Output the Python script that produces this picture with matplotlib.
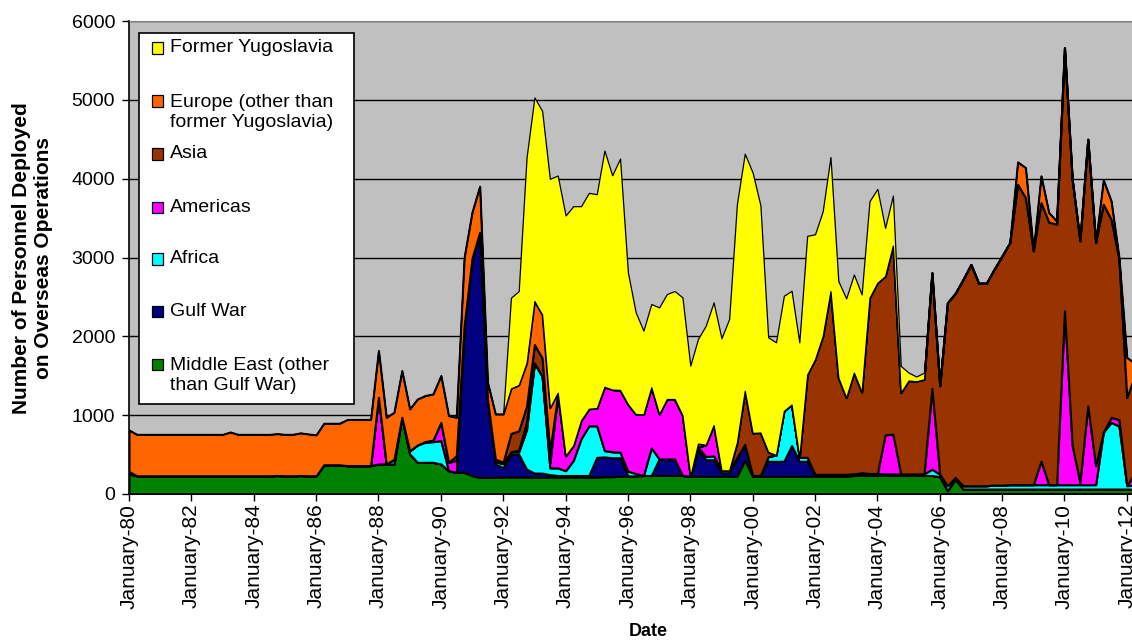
import matplotlib
matplotlib.use("Agg")
import matplotlib.pyplot as plt
import matplotlib.dates as mdates
import pandas as pd
from matplotlib.patches import Rectangle

plt.rcParams['font.family'] = ['Liberation Sans', 'DejaVu Sans']

# Quarterly observations, January 1980 onwards
start_date = "1980-01-01"
n_quarters = 130

series_names = ["Middle East (other\nthan Gulf War)", "Gulf War", "Africa", "Americas", "Asia",
                "Europe (other than\nformer Yugoslavia)", "Former Yugoslavia"]
series_colors = ["#008000", "#000080", "#00FFFF", "#FF00FF", "#993300", "#FF6600", "#FFFF00"]

middle_east = [
    256, 231, 231, 231, 231, 231, 231, 231, 231, 231,
    231, 231, 231, 231, 231, 231, 231, 231, 231, 235,
    231, 231, 235, 231, 231, 371, 371, 371, 360, 360,
    360, 360, 381, 381, 381, 973, 508, 402, 402, 402,
    381, 296, 275, 275, 233, 211, 211, 211, 215, 215,
    215, 215, 215, 215, 215, 215, 215, 215, 215, 215,
    215, 220, 220, 225, 230, 230, 235, 235, 235, 235,
    235, 235, 225, 225, 225, 225, 225, 225, 225, 430,
    225, 225, 225, 225, 225, 225, 225, 225, 230, 230,
    230, 230, 230, 235, 245, 240, 240, 235, 235, 235,
    235, 235, 235, 235, 220, 42, 190, 63, 63, 63,
    63, 63, 63, 63, 63, 63, 63, 63, 63, 63,
    63, 63, 63, 63, 63, 63, 63, 63, 63, 60,
]
gulf_war = [
    0, 0, 0, 0, 0, 0, 0, 0, 0, 0,
    0, 0, 0, 0, 0, 0, 0, 0, 0, 0,
    0, 0, 0, 0, 0, 0, 0, 0, 0, 0,
    0, 0, 0, 0, 0, 0, 0, 0, 0, 0,
    0, 0, 0, 1825, 2717, 3109, 989, 170, 120, 290,
    290, 100, 50, 50, 30, 20, 20, 20, 20, 20,
    250, 250, 240, 235, 0, 0, 0, 0, 210, 210,
    210, 0, 0, 330, 210, 210, 45, 45, 220, 200,
    10, 10, 190, 190, 190, 390, 190, 190, 0, 0,
    0, 0, 0, 0, 0, 0, 0, 0, 0, 0,
    0, 0, 0, 0, 0, 0, 0, 0, 0, 0,
    0, 0, 0, 0, 0, 0, 0, 0, 0, 0,
    0, 0, 0, 0, 0, 0, 0, 0, 0, 0,
]
africa = [
    30, 0, 0, 0, 0, 0, 0, 0, 0, 0,
    0, 0, 0, 0, 0, 0, 0, 0, 0, 0,
    0, 0, 0, 0, 0, 0, 0, 0, 0, 0,
    0, 0, 0, 0, 60, 0, 40, 220, 254, 262,
    296, 0, 0, 0, 0, 0, 0, 30, 50, 30,
    30, 500, 1398, 1228, 86, 96, 60, 190, 465, 630,
    400, 80, 75, 70, 60, 30, 0, 350, 0, 0,
    0, 0, 0, 40, 40, 50, 30, 30, 20, 0,
    0, 0, 60, 80, 640, 520, 50, 50, 20, 20,
    20, 20, 20, 20, 25, 20, 20, 20, 20, 20,
    20, 20, 20, 80, 30, 63, 21, 42, 42, 42,
    42, 50, 50, 55, 55, 55, 55, 55, 55, 55,
    55, 55, 55, 55, 55, 720, 845, 800, 43, 50,
]
americas = [
    0, 0, 0, 0, 0, 0, 0, 0, 0, 0,
    0, 0, 0, 0, 0, 0, 0, 0, 0, 0,
    0, 0, 0, 0, 0, 0, 0, 0, 0, 0,
    0, 0, 846, 0, 0, 0, 0, 0, 10, 20,
    232, 106, 150, 40, 40, 0, 0, 0, 0, 0,
    21, 100, 0, 0, 60, 932, 190, 193, 235, 217,
    225, 810, 790, 790, 850, 755, 775, 770, 570, 760,
    760, 765, 0, 0, 150, 390, 0, 0, 0, 0,
    0, 0, 0, 0, 0, 0, 0, 0, 0, 0,
    0, 0, 0, 0, 0, 0, 0, 495, 505, 0,
    0, 0, 0, 1025, 0, 0, 0, 0, 0, 0,
    0, 0, 0, 0, 0, 0, 0, 300, 0, 0,
    2206, 500, 30, 1000, 240, 0, 64, 80, 0, 150,
]
asia = [
    0, 0, 0, 0, 0, 0, 0, 0, 0, 0,
    0, 0, 0, 0, 0, 0, 0, 0, 0, 0,
    0, 0, 0, 0, 0, 0, 0, 0, 0, 0,
    0, 0, 0, 0, 0, 0, 0, 0, 0, 0,
    0, 0, 61, 0, 0, 0, 0, 30, 20, 233,
    246, 200, 233, 233, 150, 0, 0, 0, 0, 0,
    0, 0, 0, 0, 0, 0, 0, 0, 0, 0,
    0, 0, 0, 0, 0, 0, 0, 0, 190, 680,
    540, 545, 60, 0, 0, 0, 0, 1050, 1460, 1754,
    2324, 1227, 974, 1285, 1026, 2230, 2420, 2014, 2392, 1032,
    1185, 1175, 1200, 1466, 1122, 2322, 2334, 2617, 2807, 2569,
    2569, 2739, 2908, 3072, 3811, 3642, 2966, 3279, 3332, 3304,
    3337, 3375, 3063, 3382, 2832, 2893, 2514, 2036, 1119, 1240,
]
europe = [
    525, 525, 525, 525, 525, 525, 525, 525, 525, 525,
    525, 525, 525, 555, 525, 525, 525, 525, 525, 530,
    525, 525, 540, 530, 520, 526, 526, 526, 585, 585,
    585, 585, 592, 592, 595, 592, 531, 583, 582, 585,
    593, 592, 487, 863, 585, 584, 217, 574, 610, 572,
    581, 548, 551, 551, 553, 22, 0, 0, 0, 0,
    0, 0, 0, 0, 0, 0, 0, 0, 0, 0,
    0, 0, 0, 45, 0, 0, 0, 0, 0, 0,
    0, 0, 0, 0, 0, 0, 0, 0, 0, 0,
    0, 0, 0, 0, 0, 0, 0, 0, 0, 0,
    0, 0, 0, 0, 0, 0, 0, 0, 0, 0,
    0, 0, 0, 0, 283, 380, 0, 338, 120, 40,
    0, 0, 0, 0, 0, 308, 232, 21, 507, 160,
]
former_yugoslavia = [
    0, 0, 0, 0, 0, 0, 0, 0, 0, 0,
    0, 0, 0, 0, 0, 0, 0, 0, 0, 0,
    0, 0, 0, 0, 0, 0, 0, 0, 0, 0,
    0, 0, 0, 0, 0, 0, 0, 0, 0, 0,
    0, 0, 0, 0, 0, 0, 0, 0, 0, 1150,
    1191, 2606, 2583, 2584, 2904, 2755, 3048, 3033, 2716, 2738,
    2713, 2997, 2718, 2935, 1671, 1290, 1062, 1055, 1352, 1331,
    1370, 1494, 1404, 1327, 1510, 1556, 1675, 1920, 3021, 3007,
    3302, 2883, 1453, 1429, 1460, 1443, 1459, 1760, 1585, 1583,
    1700, 1224, 1257, 1245, 1236, 1224, 1190, 612, 633, 338,
    100, 60, 85, 0, 0, 0, 0, 0, 0, 0,
    0, 0, 0, 0, 0, 0, 0, 0, 0, 0,
    0, 0, 0, 0, 0, 0, 0, 0, 0, 0,
]

series = [middle_east, gulf_war, africa, americas, asia, europe, former_yugoslavia]
for s in series:
    assert len(s) == n_quarters, len(s)

y_ticks = [0, 1000, 2000, 3000, 4000, 5000, 6000]
legend_order = [6, 5, 4, 3, 2, 1, 0]

W, H = 1132, 643
fig = plt.figure(figsize=(W / 100, H / 100), dpi=100)
ax = fig.add_axes([129 / W, (H - 494) / H, (W - 129) / W, 473 / H])
ax.set_facecolor("#C0C0C0")

dates = pd.date_range(start_date, periods=n_quarters, freq="QS")
polys = ax.stackplot(dates, *series, colors=series_colors,
                     edgecolor="black", linewidth=1.5)
polys[-1].set_linewidth(0.9)

x0 = pd.Timestamp(start_date)
ax.set_xlim(x0, x0 + pd.Timedelta(days=11749))
ax.set_ylim(0, 6000)
ax.set_yticks(y_ticks)
ax.set_axisbelow(True)
ax.yaxis.grid(True, color="black", linewidth=1.0)
ax.xaxis.set_major_locator(mdates.YearLocator(2, month=1, day=1))
ax.xaxis.set_major_formatter(mdates.DateFormatter("%B-%y"))
ax.tick_params(axis="both", direction="out", length=5, width=1, color="black")
ax.tick_params(axis="y", labelsize=14, pad=5)
ax.tick_params(axis="x", labelsize=15, pad=2)
for lab in ax.get_xticklabels():
    lab.set_rotation(90)
for side in ["left", "bottom"]:
    ax.spines[side].set_color("black")
    ax.spines[side].set_linewidth(1.2)
ax.spines["top"].set_color("#808080")
ax.spines["right"].set_visible(False)


def fx(x):
    return x / W


def fy(y):
    return 1 - y / H


# Axis titles
fig.text(fx(33), fy(258), "Number of Personnel Deployed\non Overseas Operations",
         rotation=90, ha="center", va="center", fontsize=15, fontweight="bold",
         linespacing=1.2)
fig.text(fx(648), fy(632), "Date", ha="center", va="center", fontsize=13, fontweight="bold")

# Legend box
fig.add_artist(Rectangle((fx(139), fy(404)), (354 - 139) / W, (404 - 33) / H,
                         transform=fig.transFigure, facecolor="white",
                         edgecolor="black", linewidth=1.2, zorder=5))
legend_square_y = [48, 101, 154, 207, 259, 311, 364]
legend_text_y = [48, 112.5, 154, 207, 259, 311, 375.5]
for k, idx in enumerate(legend_order):
    sq = 11
    fig.add_artist(Rectangle((fx(152), fy(legend_square_y[k] + sq / 2)), sq / W, sq / H,
                             transform=fig.transFigure, facecolor=series_colors[idx],
                             edgecolor="black", linewidth=0.9, zorder=6))
    fig.text(fx(170), fy(legend_text_y[k]), series_names[idx], ha="left", va="center",
             fontsize=14, linespacing=1.18, zorder=7)

fig.savefig("out.png", dpi=100)
